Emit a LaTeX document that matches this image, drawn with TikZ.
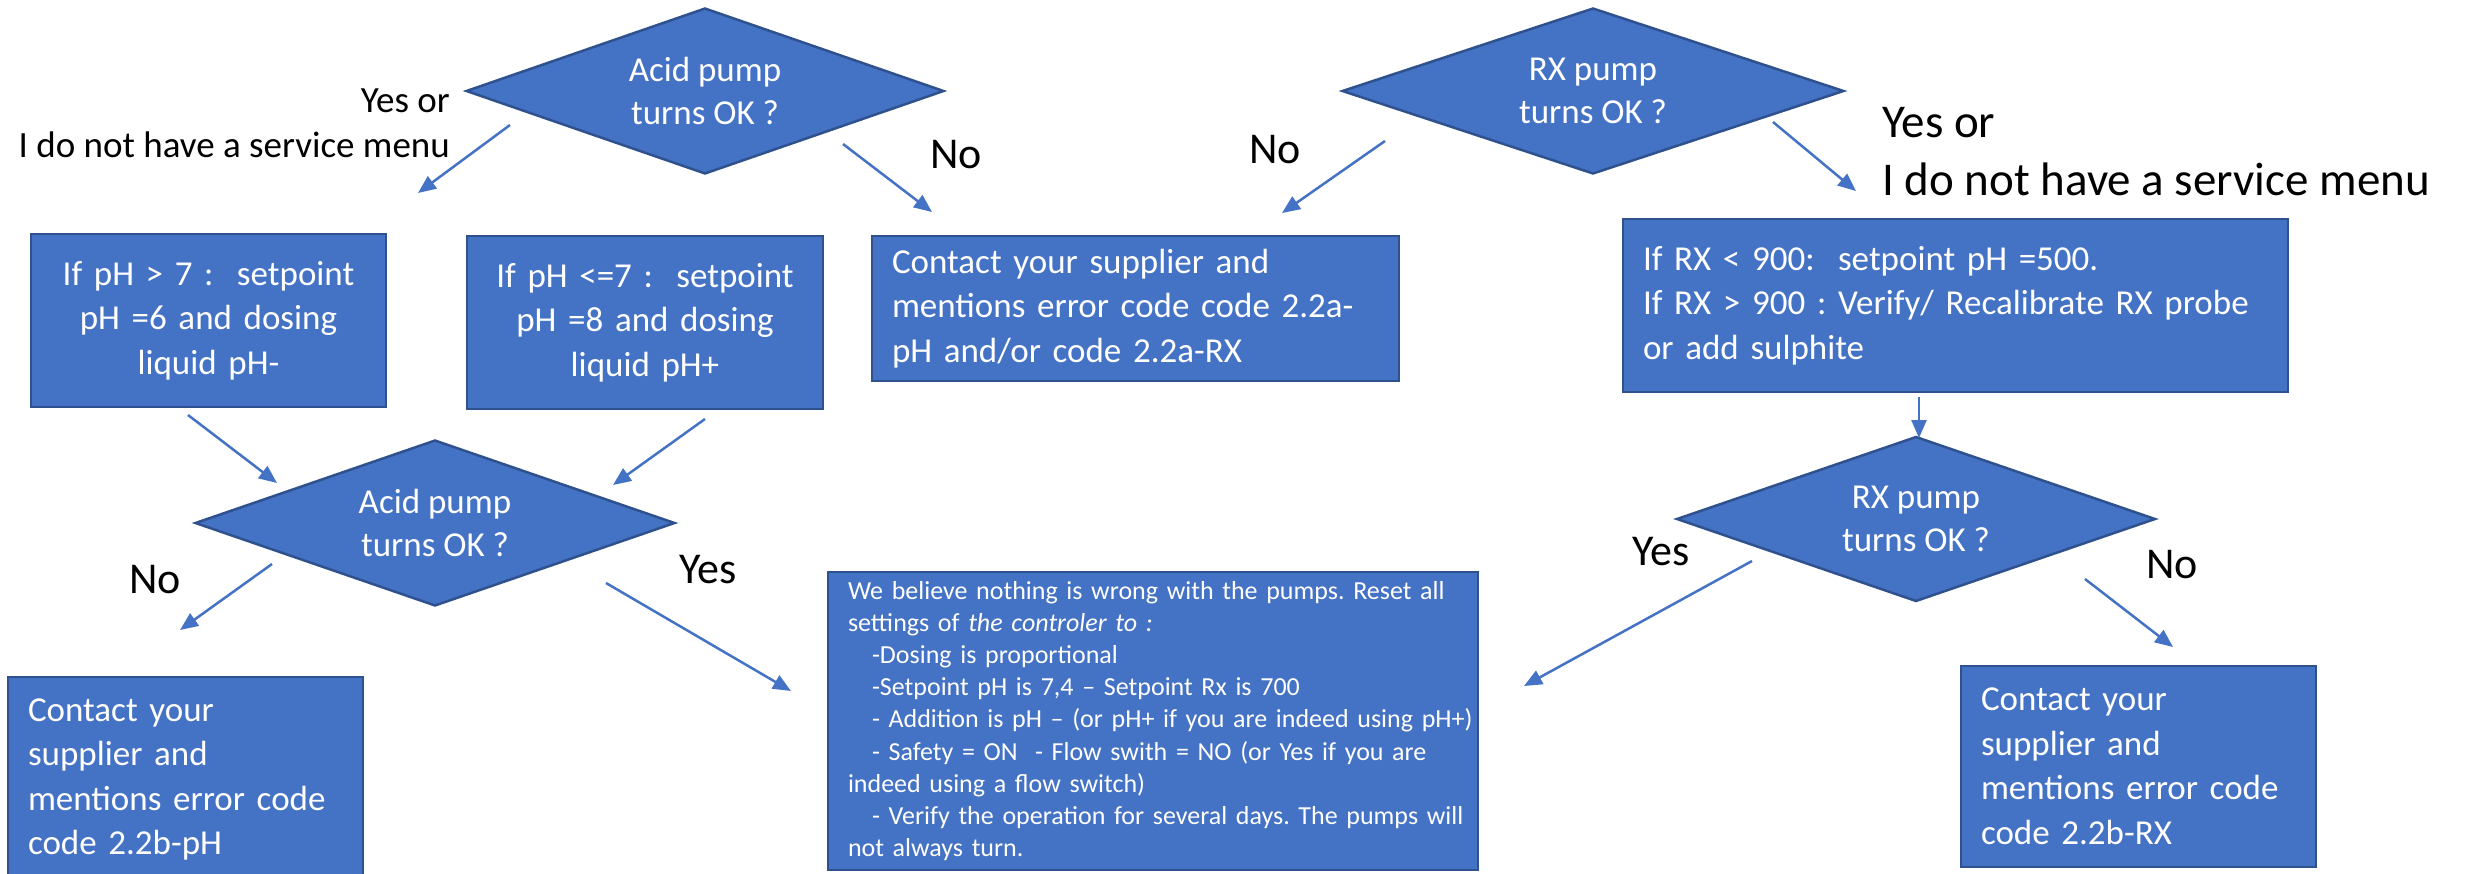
\documentclass[tikz,border=0pt]{standalone}
\usepackage{fontspec}
\setmainfont{Carlito}
\usetikzlibrary{shapes.geometric,arrows.meta}
\definecolor{fillb}{HTML}{4472C4}
\definecolor{bord}{HTML}{2F528F}
\definecolor{lineb}{HTML}{4472C4}
\frenchspacing
\tikzset{
  stepbox/.style={rectangle, draw=bord, fill=fillb, line width=2.5pt, text=white, inner sep=0pt, font=\fontsize{35}{44.5}\selectfont},
  decision/.style={diamond, aspect=2.9, draw=bord, fill=fillb, line width=2.5pt, text=white, inner sep=0pt, align=center, font=\fontsize{35}{43.5}\selectfont, minimum height=166pt},
  conn/.style={draw=lineb, line width=2.5pt, -{Triangle[length=18pt,width=15pt]}},
  biglab/.style={font=\fontsize{44}{57}\selectfont, inner sep=0pt, text=black},
}
\begin{document}
\begin{tikzpicture}[x=1pt,y=-1pt]
\useasboundingbox (0,0) rectangle (2471,873);
% decisions
\node[decision, minimum width=478pt] (d1) at (705,91) {Acid pump\\turns OK ?};
\node[decision, minimum width=502pt] (d2) at (1593,91) {RX pump\\turns OK ?};
\node[decision, minimum width=479pt, minimum height=165pt] (d3) at (1916,519) {RX pump\\turns OK ?};
\node[decision, minimum width=480pt] (d4) at (435,523) {Acid pump\\turns OK ?};
% boxes
\node[stepbox, minimum width=355pt, minimum height=173pt, text width=315pt, align=center] (b1) at (208.5,320.5) {If pH > 7 :\ \ setpoint\\pH =6 and dosing\\liquid pH-};
\node[stepbox, minimum width=356pt, minimum height=173pt, text width=316pt, align=center] (b2) at (645,322.5) {If pH <=7 :\ \ setpoint\\pH =8 and dosing\\liquid pH+};
\node[stepbox, minimum width=527pt, minimum height=145pt, text width=487pt, align=left] (c1) at (1135.5,308.5) {Contact your supplier and\\\mbox{mentions error code code 2.2a-}\\pH and/or code 2.2a-RX};
\node[stepbox, minimum width=665pt, minimum height=173pt, text width=625pt, align=left] (b3) at (1955.5,305.5) {If RX < 900:\ \ setpoint pH =500.\\\mbox{If RX > 900 : Verify/ Recalibrate RX probe}\\or add sulphite};
\node[stepbox, minimum width=355pt, minimum height=205pt, text width=315pt, align=left] (c2) at (185.5,779.5) {Contact your\\supplier and\\\mbox{mentions error code}\\code 2.2b-pH};
\node[stepbox, minimum width=355pt, minimum height=201pt, text width=315pt, align=left] (c3) at (2138.5,766.5) {Contact your\\supplier and\\\mbox{mentions error code}\\code 2.2b-RX};
\node[stepbox, minimum width=650pt, minimum height=298pt, text width=610pt, align=left, font=\fontsize{26}{32.2}\selectfont] (r) at (1153,721) {\mbox{We believe nothing is wrong with the pumps. Reset all}\\settings of \textit{the controler to :}\\\hspace*{24pt}-Dosing is proportional\\\hspace*{24pt}-Setpoint pH is 7,4 – Setpoint Rx is 700\\\hspace*{24pt}\mbox{- Addition is pH – (or pH+ if you are indeed using pH+)}\\\hspace*{24pt}\mbox{- Safety = ON\ \ - Flow swith = NO (or Yes if you are}\\indeed using a flow switch)\\\hspace*{24pt}\mbox{- Verify the operation for several days. The pumps will}\\not always turn.};
% labels
\node[font=\fontsize{37}{45}\selectfont, inner sep=0pt, align=right, anchor=east] (l1) at (450,123) {Yes or\\I do not have a service menu};
\node[biglab] (l2) at (956,155) {No};
\node[biglab] (l3) at (1275,150) {No};
\node[font=\fontsize{47}{58}\selectfont, inner sep=0pt, align=left, anchor=west] (l4) at (1882,152) {Yes or\\I do not have a service menu};
\node[biglab] (l5) at (155,580) {No};
\node[biglab] (l6) at (708,570) {Yes};
\node[biglab] (l7) at (1661,552) {Yes};
\node[biglab] (l8) at (2172,565) {No};
% connector end points
\coordinate (a1s) at (510,125);  \coordinate (a1e) at (418,193);
\coordinate (a2s) at (843,144);  \coordinate (a2e) at (932,212);
\coordinate (a3s) at (1385,141); \coordinate (a3e) at (1282,213);
\coordinate (a4s) at (1773,122); \coordinate (a4e) at (1856,191);
\coordinate (a5s) at (1919,397); \coordinate (a5e) at (1919,438);
\coordinate (a6s) at (188,415);  \coordinate (a6e) at (277,483);
\coordinate (a7s) at (705,419);  \coordinate (a7e) at (613,485);
\coordinate (a8s) at (272,564);  \coordinate (a8e) at (180,630);
\coordinate (a9s) at (606,583);  \coordinate (a9e) at (791,691);
\coordinate (a10s) at (1752,561); \coordinate (a10e) at (1524,686);
\coordinate (a11s) at (2085,579); \coordinate (a11e) at (2173,647);
\draw[conn] (a1s) -- (a1e);
\draw[conn] (a2s) -- (a2e);
\draw[conn] (a3s) -- (a3e);
\draw[conn] (a4s) -- (a4e);
\draw[conn] (a5s) -- (a5e);
\draw[conn] (a6s) -- (a6e);
\draw[conn] (a7s) -- (a7e);
\draw[conn] (a8s) -- (a8e);
\draw[conn] (a9s) -- (a9e);
\draw[conn] (a10s) -- (a10e);
\draw[conn] (a11s) -- (a11e);
\end{tikzpicture}
\end{document}
